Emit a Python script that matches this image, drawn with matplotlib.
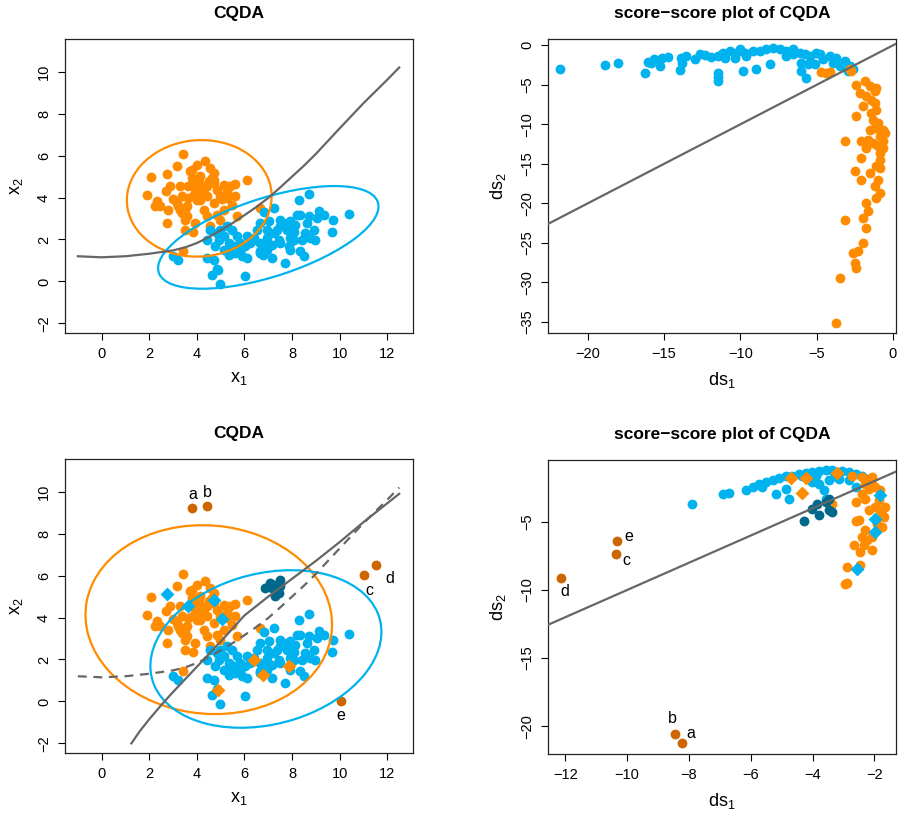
import numpy as np
import matplotlib.pyplot as plt
from matplotlib.patches import Ellipse

plt.rcParams['font.family'] = ['Liberation Sans', 'DejaVu Sans']
plt.rcParams['mathtext.fontset'] = 'custom'
plt.rcParams['mathtext.rm'] = 'Liberation Sans'
plt.rcParams['mathtext.it'] = 'Liberation Sans:italic'

ORANGE = '#FF8C00'
BLUE = '#00B2EE'
DARKBLUE = '#00688B'
OUTCOL = '#CD6600'
GREY = '#666666'

# ---- data space: class 1 (orange) and class 2 (blue)
orange_x = [3.43, 2.06, 1.89, 3.18, 3.99, 4.35, 3.71, 4.56, 3.78, 4.14, 4.63, 3.29,
            2.87, 2.71, 2.31, 2.45, 2.24, 2.99, 3.29, 3.57, 3.85, 4.28, 3.85, 3.99,
            4.42, 4.70, 4.84, 5.12, 5.40, 5.61, 6.10, 4.98, 5.26, 5.61, 5.47, 4.70,
            4.84, 4.42, 4.56, 3.92, 3.85, 3.50, 3.50, 3.36, 2.76, 3.22, 3.57, 4.14,
            4.42, 5.68, 6.66, 5.12, 4.98, 3.43, 3.15, 2.80, 4.07, 4.70, 3.92, 3.64,
            3.78, 4.49, 3.36, 4.21, 5.26, 3.50, 4.28]
orange_y = [6.09, 4.98, 4.13, 5.48, 5.56, 5.72, 5.25, 5.41, 4.93, 5.01, 4.93, 4.53,
            4.53, 4.29, 3.82, 3.58, 3.58, 3.93, 3.42, 3.58, 4.53, 4.21, 4.05, 3.90,
            4.53, 4.69, 4.37, 4.61, 4.53, 4.66, 4.85, 4.05, 3.97, 4.05, 3.66, 3.74,
            3.18, 3.10, 2.62, 2.78, 2.34, 2.46, 2.94, 3.26, 2.78, 3.58, 3.10, 3.90,
            4.05, 3.10, 3.50, 3.42, 2.94, 1.43, 3.74, 3.42, 4.77, 5.17, 4.21, 3.97,
            5.33, 4.77, 4.05, 4.45, 4.29, 3.42, 3.42]

blue_x = [8.69, 8.28, 6.84, 7.22, 6.66, 7.01, 7.50, 7.92, 8.34, 8.69, 9.11, 9.32,
          9.74, 10.39, 9.67, 8.97, 8.90, 8.55, 8.41, 8.06, 7.78, 7.50, 7.22, 6.94,
          6.66, 6.38, 6.10, 6.03, 5.82, 5.54, 5.33, 5.12, 4.98, 5.26, 5.47, 5.68,
          4.84, 4.42, 4.77, 5.12, 5.33, 5.61, 5.89, 6.10, 6.66, 6.80, 7.15, 7.50,
          7.92, 8.34, 8.48, 7.15, 7.71, 6.66, 4.42, 4.70, 3.01, 3.22, 4.84, 4.63,
          4.98, 6.03, 8.06, 8.76, 7.92, 7.43, 6.94, 6.52, 6.24, 5.40, 4.91, 4.56,
          7.78, 8.13, 9.04, 8.62, 8.20, 7.36, 6.94, 5.82]
blue_y = [4.18, 3.86, 3.29, 3.50, 2.78, 2.86, 2.94, 2.86, 3.18, 3.13, 3.34, 3.18,
          2.94, 3.21, 2.35, 1.96, 2.46, 2.31, 1.99, 2.38, 2.46, 2.62, 2.31, 2.07,
          1.83, 2.07, 2.15, 1.67, 1.43, 1.67, 1.83, 2.15, 2.46, 2.62, 2.46, 2.15,
          2.31, 1.99, 1.67, 1.51, 1.27, 1.35, 1.19, 1.11, 1.43, 1.67, 1.75, 1.83,
          1.51, 1.43, 1.19, 1.11, 0.87, 1.35, 1.11, 1.03, 1.19, 1.03, 0.59, 0.32,
          -0.11, 0.24, 1.99, 2.07, 2.07, 1.99, 2.46, 2.46, 1.83, 1.51, 1.99, 2.46,
          2.78, 2.70, 3.02, 2.78, 3.18, 2.46, 1.51, 1.83]

# points whose labels are flipped in the contaminated sample
flip_ob_x = [2.76, 3.62, 4.72, 5.07]
flip_ob_y = [5.12, 4.56, 4.82, 3.94]
flip_bo_x = [6.41, 7.85, 6.76, 4.88]
flip_bo_y = [1.99, 1.70, 1.24, 0.56]

# cluster of shifted blue points
dark_x = [7.01, 7.22, 7.50, 7.36, 7.15, 6.87, 7.29, 7.43, 7.08, 7.50]
dark_y = [5.48, 5.56, 5.80, 5.33, 5.41, 5.41, 5.01, 5.17, 5.64, 5.48]

out_lab = ['a', 'b', 'c', 'd', 'e']
out_x = [3.81, 4.42, 11.03, 11.54, 10.05]
out_y = [9.22, 9.30, 6.01, 6.52, 0.0]

# tolerance ellipses: centre x, centre y, semi axis a, semi axis b, angle
ell_clean_o = [4.1, 3.96, 3.05, 2.77, 10]
ell_clean_b = [7.0, 2.1, 4.9, 1.85, 20.7]
ell_cont_o = [4.5, 3.9, 5.2, 4.48, -10]
ell_cont_b = [6.9, 2.5, 5.0, 3.56, 20]

# decision boundaries
bnd_x = [-1, 0, 1, 2, 3, 3.5, 4, 4.5, 5, 5.5, 6, 6.5, 7, 7.5, 8, 8.5, 9, 10, 11, 12, 12.5]
bnd_y = [1.2, 1.15, 1.2, 1.32, 1.48, 1.62, 1.83, 2.11, 2.44, 2.78, 3.16, 3.55, 3.98,
         4.48, 5.0, 5.52, 6.08, 7.3, 8.5, 9.62, 10.2]
bnd2_x = [1.25, 1.6, 2, 2.5, 3, 4, 5, 6, 7, 8, 9, 10, 11, 12, 12.5]
bnd2_y = [-2.0, -1.42, -0.85, -0.18, 0.45, 1.65, 2.85, 4.1, 5.0, 5.85, 6.7, 7.6, 8.55, 9.45, 9.9]

# ---- score-score plot, clean data
s1_o_x = [-4.69, -4.36, -4.14, -2.73, -2.84, -2.40, -1.85, -1.53, -2.18, -1.75, -1.20,
          -1.20, -1.96, -2.40, -1.42, -1.31, -0.98, -1.20, -0.76, -0.87, -0.65, -3.16,
          -2.07, -1.64, -1.75, -0.98, -0.87, -2.07, -0.87, -1.09, -2.51, -1.53, -0.87,
          -2.07, -0.98, -1.20, -0.87, -1.09, -1.75, -1.64, -1.96, -1.75, -3.16, -1.96,
          -2.29, -2.62, -2.51, -2.40, -3.49, -3.71, -1.09, -1.42, -0.65, -0.55, -0.76,
          -0.65, -1.09, -1.31, -1.53]
s1_o_y = [-3.41, -3.50, -3.41, -3.24, -2.99, -4.97, -4.55, -5.18, -6.03, -6.45, -5.82,
          -7.29, -7.71, -8.98, -8.55, -9.40, -9.82, -10.45, -10.87, -11.50, -12.14, -12.14,
          -12.14, -11.93, -12.98, -12.77, -13.61, -14.24, -14.45, -15.30, -15.93, -16.14, -15.51,
          -16.98, -16.98, -17.83, -18.67, -19.30, -19.93, -20.99, -21.83, -23.09, -22.04, -24.99,
          -26.04, -26.25, -27.52, -28.15, -29.41, -35.10, -5.39, -6.87, -10.66, -11.08, -12.56,
          -12.98, -8.13, -12.35, -10.66]
s1_b_x = [-21.82, -18.87, -18.04, -16.25, -16.08, -15.64, -15.27, -15.16, -14.73, -13.90,
          -13.96, -13.53, -12.98, -12.65, -12.33, -11.89, -11.45, -11.23, -11.45, -11.45,
          -11.45, -13.85, -15.82, -11.13, -10.69, -10.25, -10.36, -9.71, -9.60, -9.16,
          -8.73, -8.29, -7.85, -7.42, -6.98, -6.54, -6.11, -5.78, -5.45, -5.02, -4.80,
          -4.14, -3.71, -3.16, -2.84, -2.62, -2.95, -6.00, -5.56, -5.13, -6.00, -5.67,
          -8.07, -8.94, -9.82, -11.02, -10.03, -6.98, -6.54, -4.58, -3.93, -3.49]
s1_b_y = [-3.03, -2.53, -2.19, -3.46, -2.06, -1.77, -2.61, -1.64, -1.47, -1.56,
          -3.16, -1.35, -1.77, -1.14, -1.22, -1.47, -1.35, -1.14, -3.50, -4.05,
          -4.55, -2.19, -2.19, -0.93, -0.72, -0.93, -1.56, -0.93, -1.35, -0.72,
          -0.72, -0.51, -0.29, -0.51, -0.72, -0.51, -0.93, -1.14, -1.35, -0.93, -1.14,
          -1.35, -1.56, -1.98, -2.61, -3.03, -3.24, -2.19, -2.40, -2.40, -3.24, -4.09,
          -2.40, -3.03, -3.24, -1.56, -0.51, -1.35, -1.14, -1.77, -2.19, -2.61]

# ---- score-score plot, contaminated data
s2_o_x = [-3.36, -2.61, -2.50, -2.40, -2.29, -2.18, -2.08, -1.97, -1.86, -1.81, -1.65,
          -1.70, -2.29, -2.08, -2.40, -1.75, -2.18, -1.97, -1.81, -2.13, -2.29, -2.59,
          -2.34, -2.67, -2.45, -2.08, -2.88, -2.48, -2.95, -2.24, -1.91, -1.75, -2.72,
          -2.40, -2.08, -2.90]
s2_o_y = [-3.66, -3.54, -4.88, -2.93, -3.29, -2.56, -2.20, -2.44, -3.41, -4.15, -3.90,
          -4.63, -5.61, -6.10, -6.10, -5.37, -4.15, -3.90, -2.68, -1.83, -2.20, -4.93,
          -6.71, -6.71, -7.20, -7.07, -8.29, -8.17, -9.59, -6.34, -5.12, -4.39, -1.59,
          -1.71, -1.71, -9.50]
s2_b_x = [-6.90, -6.69, -6.15, -5.94, -5.72, -5.51, -5.29, -5.08, -4.86, -4.65, -4.44,
          -4.22, -4.01, -3.79, -3.58, -3.36, -3.04, -2.83, -2.61, -2.40, -2.24, -5.19,
          -4.76, -4.86, -3.63, -3.58, -2.83, -2.61, -5.62, -7.89, -4.33, -4.11, -3.90,
          -3.26, -3.15, -3.47, -4.01, -3.79]
s2_b_y = [-2.93, -2.85, -2.68, -2.44, -2.24, -2.07, -1.90, -1.76, -1.66, -1.59, -1.46,
          -1.41, -1.34, -1.27, -1.22, -1.22, -1.27, -1.34, -1.46, -1.59, -1.83, -2.93,
          -3.29, -2.56, -2.63, -3.29, -1.95, -2.44, -2.44, -3.71, -1.66, -1.59, -1.66,
          -1.59, -1.83, -1.95, -2.07, -2.20]
s2_fob_x = [-1.81, -1.97, -1.97, -2.55]
s2_fob_y = [-3.05, -4.76, -5.73, -8.46]
s2_fbo_x = [-4.70, -4.22, -4.33, -3.20]
s2_fbo_y = [-1.76, -1.76, -2.88, -1.39]
s2_dark_x = [-3.85, -3.58, -3.47, -3.36, -3.79, -4.27, -3.47, -4.01]
s2_dark_y = [-3.66, -3.54, -4.15, -4.27, -4.51, -4.93, -3.29, -4.02]
s2_out_x = [-8.21, -8.44, -10.37, -12.14, -10.34]
s2_out_y = [-21.27, -20.56, -7.39, -9.10, -6.39]

# label offsets (points) for the outlier letters
off_data = {'a': (0, 10), 'b': (0, 10), 'c': (4, -11), 'd': (10, -10), 'e': (0, -10)}
off_score = {'a': (6, 7), 'b': (-2, 11), 'c': (8, -4), 'd': (3, -10), 'e': (9, 3)}

PT = 50


def style(ax, title, xl, yl):
    ax.set_title(title, fontsize=12.5, fontweight='bold', pad=15)
    ax.set_xlabel(xl, fontsize=13)
    ax.set_ylabel(yl, fontsize=13)
    ax.xaxis.set_label_coords(0.5, -0.125)
    ax.yaxis.set_label_coords(-0.115, 0.5)
    ax.tick_params(direction='out', length=5, width=0.8, labelsize=10.5, pad=5)
    ax.tick_params(axis='y', labelrotation=90)
    for lab in ax.get_yticklabels():
        lab.set_va('center')
    for s in ax.spines.values():
        s.set_color('#222222')
        s.set_linewidth(0.9)


def ellipse(ax, p, col):
    ax.add_patch(Ellipse((p[0], p[1]), 2 * p[2], 2 * p[3], angle=p[4],
                         fill=False, ec=col, lw=1.6, zorder=4))


fig = plt.figure(figsize=(9.04, 8.14), dpi=100)
W, H = 904, 814


def axes_at(l, t, r, b):
    return fig.add_axes([l / W, 1 - b / H, (r - l) / W, (b - t) / H])


# top left
ax = axes_at(65, 39, 413, 333)
ax.scatter(orange_x + flip_ob_x, orange_y + flip_ob_y, s=PT, c=ORANGE, lw=0, zorder=2)
ax.scatter(blue_x + flip_bo_x, blue_y + flip_bo_y, s=PT, c=BLUE, lw=0, zorder=2)
ellipse(ax, ell_clean_o, ORANGE)
ellipse(ax, ell_clean_b, BLUE)
ax.plot(bnd_x, bnd_y, color=GREY, lw=1.6, zorder=5)
ax.set_xlim(-1.54, 13.08)
ax.set_ylim(-2.46, 11.56)
ax.set_xticks(range(0, 13, 2))
ax.set_yticks(range(-2, 11, 2))
style(ax, 'CQDA', r'$\mathrm{x}_1$', r'$\mathrm{x}_2$')

# top right
ax = axes_at(548, 39, 896, 333)
ax.scatter(s1_b_x, s1_b_y, s=PT, c=BLUE, lw=0, zorder=2)
ax.scatter(s1_o_x, s1_o_y, s=PT, c=ORANGE, lw=0, zorder=2)
ax.axline((0, 0), slope=1, color=GREY, lw=1.6, zorder=5)
ax.set_xlim(-22.6, 0.2)
ax.set_ylim(-36.4, 0.8)
ax.set_xticks(range(-20, 1, 5))
ax.set_yticks(range(-35, 1, 5))
style(ax, 'score\u2212score plot of CQDA', r'$\mathrm{ds}_1$', r'$\mathrm{ds}_2$')

# bottom left
ax = axes_at(65, 459, 413, 753)
ax.scatter(orange_x, orange_y, s=PT, c=ORANGE, lw=0, zorder=2)
ax.scatter(blue_x, blue_y, s=PT, c=BLUE, lw=0, zorder=2)
ax.scatter(flip_ob_x, flip_ob_y, s=PT, c=BLUE, marker='D', lw=0, zorder=3)
ax.scatter(flip_bo_x, flip_bo_y, s=PT, c=ORANGE, marker='D', lw=0, zorder=3)
ax.scatter(dark_x, dark_y, s=PT, c=DARKBLUE, lw=0, zorder=3)
ax.scatter(out_x, out_y, s=PT, c=OUTCOL, lw=0, zorder=3)
for lab, px, py in zip(out_lab, out_x, out_y):
    ax.annotate(lab, (px, py), xytext=off_data[lab], textcoords='offset points',
                ha='center', va='center', fontsize=11.5)
ellipse(ax, ell_cont_o, ORANGE)
ellipse(ax, ell_cont_b, BLUE)
ax.plot(bnd_x, bnd_y, color=GREY, lw=1.6, ls=(0, (4, 3)), zorder=5)
ax.plot(bnd2_x, bnd2_y, color=GREY, lw=1.6, zorder=5)
ax.set_xlim(-1.54, 13.08)
ax.set_ylim(-2.46, 11.56)
ax.set_xticks(range(0, 13, 2))
ax.set_yticks(range(-2, 11, 2))
style(ax, 'CQDA', r'$\mathrm{x}_1$', r'$\mathrm{x}_2$')

# bottom right
ax = axes_at(548, 460, 896, 754)
ax.scatter(s2_b_x, s2_b_y, s=PT, c=BLUE, lw=0, zorder=2)
ax.scatter(s2_o_x, s2_o_y, s=PT, c=ORANGE, lw=0, zorder=2)
ax.scatter(s2_dark_x, s2_dark_y, s=PT, c=DARKBLUE, lw=0, zorder=3)
ax.scatter(s2_fob_x, s2_fob_y, s=PT, c=BLUE, marker='D', lw=0, zorder=3)
ax.scatter(s2_fbo_x, s2_fbo_y, s=PT, c=ORANGE, marker='D', lw=0, zorder=3)
ax.scatter(s2_out_x, s2_out_y, s=PT, c=OUTCOL, lw=0, zorder=3)
for lab, px, py in zip(out_lab, s2_out_x, s2_out_y):
    ax.annotate(lab, (px, py), xytext=off_score[lab], textcoords='offset points',
                ha='center', va='center', fontsize=11.5)
ax.axline((0, 0), slope=1, color=GREY, lw=1.6, zorder=5)
ax.set_xlim(-12.56, -1.3)
ax.set_ylim(-22.05, -0.45)
ax.set_xticks(range(-12, -1, 2))
ax.set_yticks(range(-20, -4, 5))
style(ax, 'score\u2212score plot of CQDA', r'$\mathrm{ds}_1$', r'$\mathrm{ds}_2$')

fig.savefig('out.png', dpi=100)
